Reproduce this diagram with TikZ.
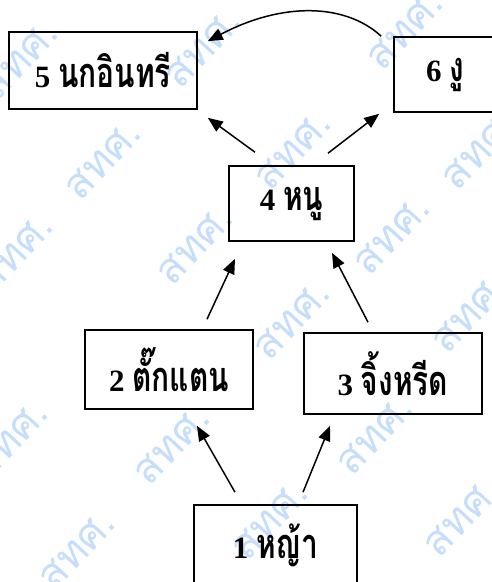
\documentclass[tikz,border=0pt]{standalone}
\usepackage{fontspec}
\usepackage{graphicx}
\setmainfont{Liberation Serif}
\newfontfamily\thaifont[Script=Thai]{Loma}
\newcommand{\thtxt}[1]{\scalebox{0.88}[1.22]{\fontsize{34}{36}\selectfont\thaifont #1}}
\usetikzlibrary{arrows.meta}
\definecolor{wmblue}{RGB}{196,222,252}
\tikzset{
  box/.style={draw=black, line width=1.6pt, inner sep=0pt, font=\fontsize{31}{32}\selectfont\bfseries},
  arr/.style={line width=1.5pt, -{Triangle[length=15pt,width=12pt]}},
  wm/.style={text=wmblue, rotate=47, font=\fontsize{42}{44}\selectfont\thaifont}
}
\begin{document}
\begin{tikzpicture}[x=1pt,y=-1pt]
\useasboundingbox (0,0) rectangle (492,582);
% watermarks
\foreach \p/\q in {203/48,405/30,103/160,293/150,480/150,15/253,195/245,392/235,292/320,470/313,10/440,172/445,375/435,77/550,270/520,462/517,20/60}
  \node[wm] (w\p) at (\p,\q) {สทศ.};
% boxes
\node[box, minimum width=188pt, minimum height=77pt] (n5) at (103,70.5) {5 \thtxt{นกอินทรี}};
\node[box, minimum width=102pt, minimum height=75pt] (n6) at (445,74.5) {6 \thtxt{งู}};
\node[box, minimum width=125pt, minimum height=75pt] (n4) at (291.5,203.5) {4 \thtxt{หนู}};
\node[box, minimum width=168pt, minimum height=79pt] (n2) at (169,369.5) {2 \thtxt{ตั๊กแตน}};
\node[box, minimum width=178pt, minimum height=81pt] (n3) at (393,373.5) {3 \thtxt{จิ้งหรีด}};
\node[box, minimum width=163pt, minimum height=80pt] (n1) at (275.5,545) {\raisebox{-6pt}{1 \thtxt{หญ้า}}};
% connectors
\draw[arr] ([shift={(-36.5,-13)}]n4.north) -- ([shift={(10,8)}]n5.south east);
\draw[arr] ([shift={(36.5,-12)}]n4.north) -- ([shift={(-14,1)}]n6.south west);
\draw[arr] ([shift={(-12,0)}]n6.north west) .. controls (345,3) and (282,2) .. ([shift={(10,10)}]n5.north east);
\draw[arr] ([shift={(38,-10)}]n2.north) -- ([shift={(-56.5,17)}]n4.south);
\draw[arr] ([shift={(-25,-10)}]n3.north) -- ([shift={(40.5,11)}]n4.south);
\draw[arr] ([shift={(-40.5,-12)}]n1.north) -- ([shift={(28,16)}]n2.south);
\draw[arr] ([shift={(27.5,-12)}]n1.north) -- ([shift={(-63,11)}]n3.south);
\end{tikzpicture}
\end{document}
